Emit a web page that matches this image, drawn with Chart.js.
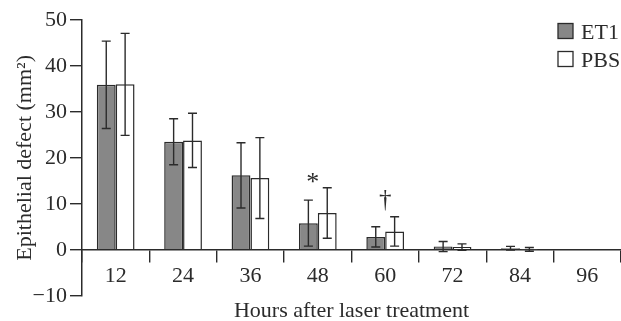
<!DOCTYPE html>
<html>
<head>
<meta charset="utf-8">
<script src="https://cdn.jsdelivr.net/npm/chart.js@4/dist/chart.umd.min.js"></script>
<style>
  html, body { margin: 0; padding: 0; background: #fff; overflow: hidden; }
  #wrap { position: relative; width: 621px; height: 321px; }
</style>
</head>
<body>
<div id="wrap"><canvas id="chart"></canvas></div>
<script>
// chart data
const categories = ['12', '24', '36', '48', '60', '72', '84', '96'];
const et1Mean = [35.9, 23.5, 16.2, 5.8, 2.8, 0.7, 0.35, null];
const et1Err  = [9.5, 5.0, 7.1, 5.0, 2.2, 1.1, 0.4, null];
const pbsMean = [36.0, 23.8, 15.6, 8.0, 4.0, 0.6, 0.1, null];
const pbsErr  = [11.1, 5.9, 8.8, 5.5, 3.2, 0.7, 0.4, null];
const yTicks  = [-10, 0, 10, 20, 30, 40, 50];
// significance marks: category, symbol, height (data units)
const marks = [
  { cat: '48', text: '*', value: 15.6 },
  { cat: '60', text: '†', value: 10.9 }
];

const ink = '#2b2b2b';
const serif = "'Liberation Serif', 'DejaVu Serif', serif";

// error bars, significance marks and legend
const extras = {
  id: 'extras',
  afterDatasetsDraw(chart) {
    const ctx = chart.ctx;
    const y = chart.scales.y;
    const x = chart.scales.x;
    const errs = [et1Err, pbsErr];
    ctx.save();
    ctx.strokeStyle = ink;
    ctx.lineWidth = 1.4;
    chart.data.datasets.forEach((ds, i) => {
      const meta = chart.getDatasetMeta(i);
      meta.data.forEach((bar, j) => {
        const m = ds.data[j], e = errs[i][j];
        if (m == null || e == null) return;
        const top = y.getPixelForValue(m + e);
        const bot = y.getPixelForValue(m - e);
        ctx.beginPath();
        ctx.moveTo(bar.x, top); ctx.lineTo(bar.x, bot);
        ctx.moveTo(bar.x - 4.5, top); ctx.lineTo(bar.x + 4.5, top);
        ctx.moveTo(bar.x - 4.5, bot); ctx.lineTo(bar.x + 4.5, bot);
        ctx.stroke();
      });
    });

    // * and dagger
    ctx.fillStyle = ink;
    ctx.textAlign = 'center';
    ctx.textBaseline = 'middle';
    marks.forEach(mk => {
      const px = x.getPixelForValue(categories.indexOf(mk.cat));
      const py = y.getPixelForValue(mk.value);
      if (mk.text === '*') {
        ctx.font = '26px ' + serif;
        ctx.fillText(mk.text, px - 5, py + 5);
      } else {
        ctx.font = '25px ' + serif;
        ctx.fillText(mk.text, px, py + 1);
      }
    });

    // legend in the top right corner
    const area = chart.chartArea;
    ctx.font = '22px ' + serif;
    ctx.textAlign = 'left';
    ctx.textBaseline = 'alphabetic';
    chart.data.datasets.forEach((ds, i) => {
      const bx = area.right - 63, by = 23.5 + i * 28;
      ctx.fillStyle = ds.backgroundColor;
      ctx.fillRect(bx, by, 15, 15);
      ctx.lineWidth = 1.3;
      ctx.strokeStyle = ink;
      ctx.strokeRect(bx, by, 15, 15);
      ctx.fillStyle = ink;
      ctx.fillText(ds.label, bx + 23, by + 15);
    });
    ctx.restore();
  }
};

new Chart(document.getElementById('chart'), {
  type: 'bar',
  data: {
    labels: categories,
    datasets: [
      {
        label: 'ET1',
        data: et1Mean,
        backgroundColor: '#878787',
        borderColor: ink,
        borderWidth: 1.5,
        categoryPercentage: 0.56,
        barPercentage: 1.0
      },
      {
        label: 'PBS',
        data: pbsMean,
        backgroundColor: '#ffffff',
        borderColor: ink,
        borderWidth: 1.5,
        categoryPercentage: 0.56,
        barPercentage: 1.0
      }
    ]
  },
  options: {
    responsive: true,
    maintainAspectRatio: false,
    animation: false,
    layout: { padding: { top: 20, right: 0, bottom: 0, left: 0 } },
    plugins: {
      legend: { display: false },
      tooltip: { enabled: false },
      title: {
        display: true,
        position: 'bottom',
        fullSize: false,
        text: 'Hours after laser treatment',
        color: ink,
        font: { family: serif, size: 22, weight: 'normal', lineHeight: 0.92 },
        padding: { top: 5, bottom: 0 }
      }
    },
    scales: {
      x: {
        position: { y: 0 },
        offset: true,
        grid: { offset: true, drawOnChartArea: false, tickLength: 12, color: ink, lineWidth: 1.4 },
        border: { color: ink, width: 1.5 },
        ticks: { color: ink, font: { family: serif, size: 22 }, padding: 1 }
      },
      y: {
        min: -10,
        max: 50,
        afterFit: s => { s.width = 82; },
        afterBuildTicks: s => { s.ticks = yTicks.map(v => ({ value: v })); },
        grid: { drawOnChartArea: false, tickLength: 12, color: ink, lineWidth: 1.4 },
        border: { color: ink, width: 1.5 },
        ticks: {
          color: ink,
          padding: 3,
          font: { family: serif, size: 22 },
          callback: v => v < 0 ? '\u2212' + Math.abs(v) : String(v)
        },
        title: {
          display: true,
          text: 'Epithelial defect (mm²)',
          color: ink,
          font: { family: serif, size: 22 },
          padding: { top: 12, bottom: 0 }
        }
      }
    }
  },
  plugins: [extras]
});
</script>
</body>
</html>
